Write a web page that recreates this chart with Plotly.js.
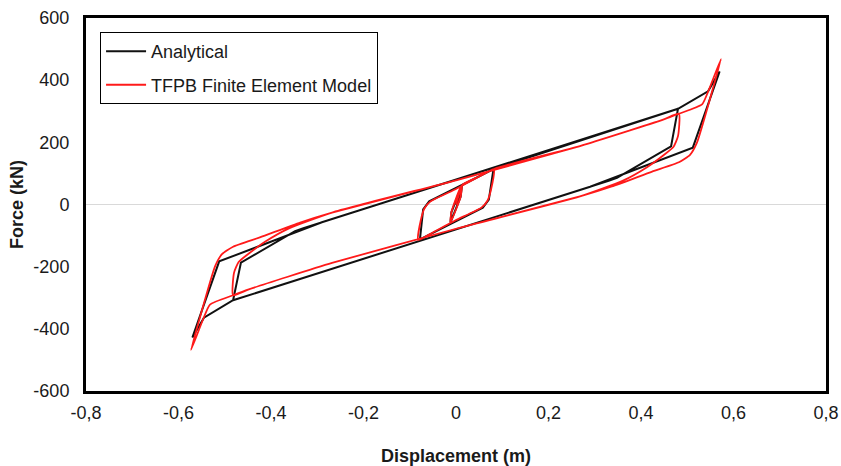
<!DOCTYPE html>
<html>
<head>
<meta charset="utf-8">
<script src="https://cdn.plot.ly/plotly-3.0.1.min.js"></script>
<style>
  html, body { margin: 0; padding: 0; background: #ffffff; }
  #chart { width: 841px; height: 466px; }
</style>
</head>
<body>
<div id="chart"></div>
<script>
// Force–displacement hysteresis of the TFPB isolator: analytical model vs. finite element model.
// Loading history: tiny cycle, small cycle (±0.08 m), medium cycle (±0.48 m), large cycle (±0.57 m).

// Analytical (trilinear) response, displacement in m
const dispAnalytical = [
  0.000, 0.013, 0.010, -0.012, -0.010, 0.013,
  0.081, 0.071, 0.058, -0.078, -0.071, -0.058, 0.081,
  0.480, 0.465, 0.348, 0.330, -0.482, -0.465, -0.348, -0.330, 0.480,
  0.545, 0.570, 0.512, 0.290, -0.482, -0.545, -0.570, -0.512, -0.290, 0.300
];
// Analytical force, kN
const forceAnalytical = [
  0, 62, 25, -58, -25, 62,
  114, 16, -10, -112, -16, 10, 114,
  308, 187, 86, 76, -308, -187, -86, -76, 308,
  364, 428, 183, 57, -308, -364, -428, -183, -57, 222
];

// Finite element model response, displacement in m
const dispFEM = [
  0.000, 0.013, 0.010, -0.012, -0.010, 0.013,
  0.050, 0.082, 0.076, 0.068, 0.055, 0.000, -0.050, -0.082, -0.076, -0.068, -0.055, 0.000, 0.082,
  0.268, 0.448, 0.482, 0.480, 0.470, 0.450, 0.413, 0.360, 0.268, 0.000, -0.268, -0.448, -0.482,
  -0.480, -0.470, -0.450, -0.413, -0.360, -0.268, 0.000, 0.268, 0.448, 0.482,
  0.532, 0.547, 0.573, 0.553, 0.521, 0.506, 0.482, 0.424, 0.337, 0.268, 0.000, -0.268, -0.448, -0.482,
  -0.532, -0.547, -0.573, -0.553, -0.521, -0.506, -0.482, -0.424, -0.337, -0.268, 0.000, 0.268
];
// Finite element model force, kN
const forceFEM = [
  0, 62, 25, -58, -25, 62,
  90, 114, 50, 12, -10, -50, -90, -114, -50, -12, 10, 50, 114,
  188, 273, 292, 220, 185, 160, 120, 76, 26, -78, -188, -273, -292,
  -220, -185, -160, -120, -76, -26, 78, 188, 273, 292,
  322, 370, 468, 360, 199, 160, 136, 106, 58, 26, -78, -188, -273, -292,
  -322, -370, -468, -360, -199, -160, -136, -106, -58, -26, 78, 188
];

// Axis ticks
const xTickVals = [-0.8, -0.6, -0.4, -0.2, 0, 0.2, 0.4, 0.6, 0.8];
const xTickText = ['-0,8', '-0,6', '-0,4', '-0,2', '0', '0,2', '0,4', '0,6', '0,8'];
const yTickVals = [-600, -400, -200, 0, 200, 400, 600];
const yTickText = ['-600', '-400', '-200', '0', '200', '400', '600'];

const sans = 'Liberation Sans, Arial, sans-serif';

const traces = [
  {
    x: dispAnalytical, y: forceAnalytical,
    type: 'scatter', mode: 'lines', name: 'Analytical',
    legendgroup: 'a',
    line: { color: '#111111', width: 2 }
  },
  {
    x: dispFEM, y: forceFEM,
    type: 'scatter', mode: 'lines', name: 'TFPB Finite Element Model',
    legendgroup: 'b',
    line: { color: '#ff1a1a', width: 1.8, shape: 'spline', smoothing: 0.5 }
  }
];

const layout = {
  width: 841, height: 466,
  margin: { l: 86, r: 15, t: 18, b: 75 },
  paper_bgcolor: '#ffffff', plot_bgcolor: '#ffffff',
  showlegend: true,
  legend: {
    x: 0.019, y: 0.962, xanchor: 'left', yanchor: 'top',
    bgcolor: '#ffffff', bordercolor: '#000000', borderwidth: 1,
    font: { family: sans, size: 18, color: '#1a1a1a' },
    tracegroupgap: 7, itemwidth: 40
  },
  xaxis: {
    range: [-0.8, 0.8], tickvals: xTickVals, ticktext: xTickText,
    showline: true, mirror: true, linewidth: 3, linecolor: '#000000',
    showgrid: false, zeroline: false, ticks: '', ticklabelstandoff: 3,
    tickfont: { family: sans, size: 18, color: '#1a1a1a' },
    title: { text: 'Displacement (m)', standoff: 28,
             font: { family: sans, size: 18, color: '#1a1a1a', weight: 'bold' } },
    automargin: false
  },
  yaxis: {
    range: [-600, 600], tickvals: yTickVals, ticktext: yTickText,
    showline: true, mirror: true, linewidth: 3, linecolor: '#000000',
    showgrid: false, zeroline: true, zerolinecolor: '#d9d9d9', zerolinewidth: 1,
    ticks: '', ticklabelstandoff: 10,
    tickfont: { family: sans, size: 18, color: '#1a1a1a' },
    title: { text: 'Force (kN)', standoff: 6,
             font: { family: sans, size: 18, color: '#1a1a1a', weight: 'bold' } },
    automargin: false
  }
};

Plotly.newPlot('chart', traces, layout, { staticPlot: true, displayModeBar: false });
</script>
</body>
</html>
